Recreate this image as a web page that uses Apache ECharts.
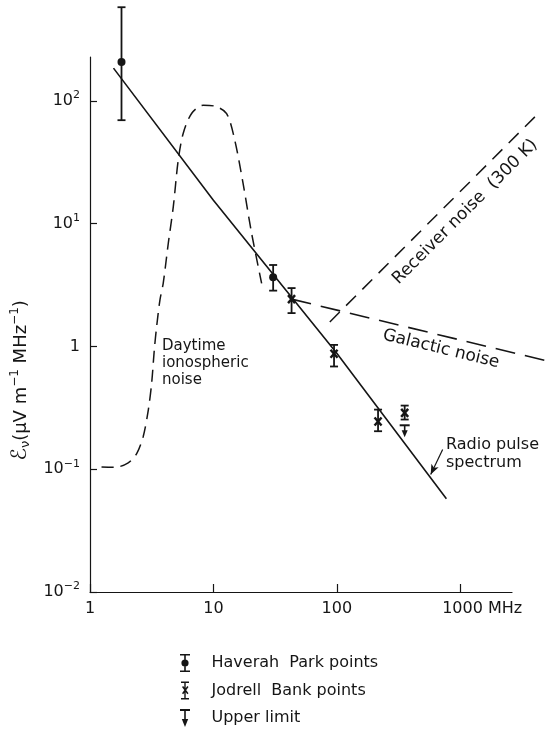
<!DOCTYPE html>
<html>
<head>
<meta charset="utf-8">
<script src="https://cdn.jsdelivr.net/npm/echarts@6/dist/echarts.min.js"></script>
<style>
  html, body { margin: 0; padding: 0; background: #fff; }
  #chart { width: 552px; height: 730px; }
</style>
</head>
<body>
<div id="chart"></div>
<script>
// frequency (MHz) and field strength (uV m^-1 MHz^-1)
var spectrumFreq = [1.55, 10, 100, 773];
var spectrumVal = [185, 15.5, 0.88, 0.0575];

var ionoFreq = [1.24, 1.59, 2.04, 2.39, 2.70, 2.97, 3.16, 3.32, 3.47, 3.69, 3.92, 4.31, 4.73, 5.19, 5.69, 6.66, 8.27, 10.3, 12.8, 14.9, 17.4, 20.4, 24.6];
var ionoVal = [0.1045, 0.1037, 0.1127, 0.134, 0.185, 0.305, 0.503, 0.94, 1.46, 2.40, 3.27, 6.93, 13.7, 33, 54.3, 79, 92.3, 90.6, 79, 47.9, 21.3, 8.36, 3.27];

var galacticFreq = [43, 1000, 5300];
var galacticVal = [2.43, 1.13, 0.755];

var receiverFreq = [87.8, 4085];
var receiverVal = [1.585, 75.2];

var haverahFreq = [1.8, 30.5];
var haverahVal = [208, 3.66];
var haverahLow = [69.7, 2.85];
var haverahHigh = [580, 4.61];

var jodrellFreq = [43, 95, 216, 355];
var jodrellVal = [2.43, 0.873, 0.245, 0.288];
var jodrellLow = [1.87, 0.687, 0.204, 0.254];
var jodrellHigh = [2.99, 1.03, 0.306, 0.330];

var upperFreq = [355];
var upperVal = [0.228];

var xTicks = [1, 10, 100, 1000];
var yTicks = [0.01, 0.1, 1, 10, 100];

var FONT = '"DejaVu Sans", sans-serif';
var INK = '#151515';

function pairs(xs, ys) {
    return xs.map(function (x, i) { return [x, ys[i]]; });
}
function quads(xs, ys, lo, hi) {
    return xs.map(function (x, i) { return [x, ys[i], lo[i], hi[i]]; });
}

function errorBar(marker) {
    return function (params, api) {
        var x = api.value(0);
        var c = api.coord([x, api.value(1)]);
        var lo = api.coord([x, api.value(2)]);
        var hi = api.coord([x, api.value(3)]);
        var st = { stroke: INK, lineWidth: 1.8 };
        var kids = [
            { type: 'line', shape: { x1: c[0], y1: lo[1], x2: c[0], y2: hi[1] }, style: st },
            { type: 'line', shape: { x1: c[0] - 4, y1: hi[1], x2: c[0] + 4, y2: hi[1] }, style: st },
            { type: 'line', shape: { x1: c[0] - 4, y1: lo[1], x2: c[0] + 4, y2: lo[1] }, style: st }
        ];
        if (marker === 'dot') {
            kids.push({ type: 'circle', shape: { cx: c[0], cy: c[1], r: 4 }, style: { fill: INK } });
        } else {
            var s = { stroke: INK, lineWidth: 2.4 };
            kids.push({ type: 'line', shape: { x1: c[0] - 3.5, y1: c[1] - 4, x2: c[0] + 3.5, y2: c[1] + 4 }, style: s });
            kids.push({ type: 'line', shape: { x1: c[0] + 3.5, y1: c[1] - 4, x2: c[0] - 3.5, y2: c[1] + 4 }, style: s });
        }
        return { type: 'group', children: kids };
    };
}

function upperLimit(params, api) {
    var c = api.coord([api.value(0), api.value(1)]);
    return {
        type: 'group',
        children: [
            { type: 'line', shape: { x1: c[0] - 5, y1: c[1], x2: c[0] + 5, y2: c[1] }, style: { stroke: INK, lineWidth: 2 } },
            { type: 'line', shape: { x1: c[0], y1: c[1], x2: c[0], y2: c[1] + 6 }, style: { stroke: INK, lineWidth: 1.6 } },
            { type: 'polygon', shape: { points: [[c[0] - 3, c[1] + 5], [c[0] + 3, c[1] + 5], [c[0], c[1] + 12]] }, style: { fill: INK } }
        ]
    };
}

// dashed noise lines run past the end of the frequency axis, so draw them unclipped
function dashedCurve(xs, ys, dash, width) {
    return function (params, api) {
        var pts = xs.map(function (x, i) { return api.coord([x, ys[i]]); });
        return {
            type: 'polyline',
            shape: { points: pts },
            style: { stroke: INK, fill: null, lineWidth: width, lineDash: dash }
        };
    };
}

var iconHaverah = 'path://M0 0H10V1.5H0ZM4.2 1.5H5.8V16.5H4.2ZM0 16.5H10V18H0ZM8.6 9A3.6 3.6 0 1 1 1.4 9A3.6 3.6 0 1 1 8.6 9Z';
var iconJodrell = 'path://M1 0H9V1.5H1ZM4.3 1.5H5.7V16.5H4.3ZM1 16.5H9V18H1ZM2 5.5L3.2 4.5L8.5 11.8L7.3 12.8ZM7.3 4.5L8.5 5.5L3.2 12.8L2 11.8Z';
var iconUpper = 'path://M0 0H10V2H0ZM4.2 2H5.8V11H4.2ZM1.8 10H8.2L5 18Z';

var chart = echarts.init(document.getElementById('chart'));

var option = {
    animation: false,
    backgroundColor: '#fff',
    textStyle: { fontFamily: FONT, color: INK },
    grid: { left: 90, right: 40, top: 57, bottom: 138 },
    xAxis: {
        type: 'log',
        logBase: 10,
        min: 1,
        max: 2630,
        axisLine: { lineStyle: { color: INK, width: 1.2 } },
        axisTick: { inside: true, length: 8, lineStyle: { color: INK, width: 1.2 }, customValues: xTicks },
        splitLine: { show: false },
        axisLabel: {
            customValues: xTicks,
            margin: 9,
            fontSize: 16,
            fontFamily: FONT,
            color: INK,
            formatter: function (v) {
                var e = Math.round(Math.log10(v));
                var s = String(Math.pow(10, e));
                return e === 3 ? '{pad|}' + s + '{u| MHz}' : s;
            },
            rich: {
                pad: { width: 44, fontSize: 16 },
                u: { fontSize: 16, fontFamily: FONT, color: INK }
            }
        }
    },
    yAxis: {
        type: 'log',
        logBase: 10,
        min: 0.01,
        max: 228,
        axisLine: { show: true, lineStyle: { color: INK, width: 1.2 } },
        axisTick: { show: true, inside: true, length: 7, lineStyle: { color: INK, width: 1.2 }, customValues: yTicks },
        splitLine: { show: false },
        axisLabel: {
            customValues: yTicks,
            margin: 10,
            fontSize: 16,
            fontFamily: FONT,
            color: INK,
            formatter: function (v) {
                var e = Math.round(Math.log10(v));
                if (e === 0) return '1';
                return '10{s|' + (e < 0 ? '\u2212' + (-e) : e) + '}';
            },
            rich: {
                s: { fontSize: 11, fontFamily: FONT, color: INK, padding: [0, 0, 11, 0] }
            }
        },
        name: '{e|\u2130}{n|\u03bd}(\u03bcV m{s|\u22121} MHz{s|\u22121})',
        nameLocation: 'middle',
        nameRotate: 90,
        nameGap: 51,
        nameTextStyle: {
            fontSize: 18,
            fontFamily: FONT,
            color: INK,
            padding: [0, 112, 0, 0],
            rich: {
                e: { fontSize: 21, fontFamily: FONT, color: INK, fontStyle: 'italic' },
                n: { fontSize: 13, fontFamily: FONT, color: INK, padding: [10, 0, 0, 0] },
                s: { fontSize: 12, fontFamily: FONT, color: INK, padding: [0, 0, 12, 0] }
            }
        }
    },
    legend: {
        orient: 'vertical',
        left: 180,
        top: 654,
        padding: 0,
        itemWidth: 11,
        itemHeight: 18,
        itemGap: 9.5,
        selectedMode: false,
        textStyle: { fontSize: 16, fontFamily: FONT, color: INK, padding: [0, 0, 0, 16] },
        data: [
            { name: 'Haverah  Park points', icon: iconHaverah },
            { name: 'Jodrell  Bank points', icon: iconJodrell },
            { name: 'Upper limit', icon: iconUpper }
        ]
    },
    series: [
        {
            name: 'Radio pulse spectrum',
            type: 'line',
            data: pairs(spectrumFreq, spectrumVal),
            showSymbol: false,
            symbol: 'none',
            clip: false,
            lineStyle: { color: INK, width: 1.6 },
            markLine: {
                silent: true,
                symbol: ['none', 'arrow'],
                symbolSize: [6, 10],
                label: { show: false },
                lineStyle: { color: INK, width: 1.2, type: 'solid' },
                data: [[{ coord: [721, 0.145] }, { coord: [577, 0.0906] }]]
            }
        },
        {
            name: 'Daytime ionospheric noise',
            type: 'line',
            data: pairs(ionoFreq, ionoVal),
            smooth: 0.3,
            symbol: 'none',
            clip: false,
            lineStyle: { color: INK, width: 1.5, type: [12, 7] }
        },
        {
            name: 'Galactic noise',
            type: 'custom',
            clip: false,
            renderItem: dashedCurve(galacticFreq, galacticVal, [20, 10], 1.6),
            data: [[galacticFreq[0], galacticVal[0]]]
        },
        {
            name: 'Receiver noise (300 K)',
            type: 'custom',
            clip: false,
            renderItem: dashedCurve(receiverFreq, receiverVal, [14, 9], 1.5),
            data: [[receiverFreq[0], receiverVal[0]]]
        },
        {
            name: 'Haverah  Park points',
            type: 'custom',
            clip: false,
            itemStyle: { color: INK },
            renderItem: errorBar('dot'),
            data: quads(haverahFreq, haverahVal, haverahLow, haverahHigh),
            z: 5
        },
        {
            name: 'Jodrell  Bank points',
            type: 'custom',
            clip: false,
            itemStyle: { color: INK },
            renderItem: errorBar('cross'),
            data: quads(jodrellFreq, jodrellVal, jodrellLow, jodrellHigh),
            z: 5
        },
        {
            name: 'Upper limit',
            type: 'custom',
            clip: false,
            itemStyle: { color: INK },
            renderItem: upperLimit,
            data: pairs(upperFreq, upperVal),
            z: 5
        }
    ],
    graphic: [
        {
            type: 'text', left: 162, top: 338,
            style: { text: 'Daytime\nionospheric\nnoise', fontSize: 15, fontFamily: FONT, fill: INK, lineHeight: 17 }
        },
        {
            type: 'text', x: 441, y: 349, rotation: -13.7 * Math.PI / 180,
            style: { text: 'Galactic noise', fontSize: 17, fontFamily: FONT, fill: INK, align: 'center', verticalAlign: 'middle' }
        },
        {
            type: 'text', x: 465, y: 212, rotation: Math.PI / 4,
            style: { text: 'Receiver noise  (300 K)', fontSize: 17, fontFamily: FONT, fill: INK, align: 'center', verticalAlign: 'middle' }
        },
        {
            type: 'text', left: 446, top: 436,
            style: { text: 'Radio pulse\nspectrum', fontSize: 16, fontFamily: FONT, fill: INK, lineHeight: 18 }
        }
    ]
};

chart.setOption(option);
</script>
</body>
</html>
